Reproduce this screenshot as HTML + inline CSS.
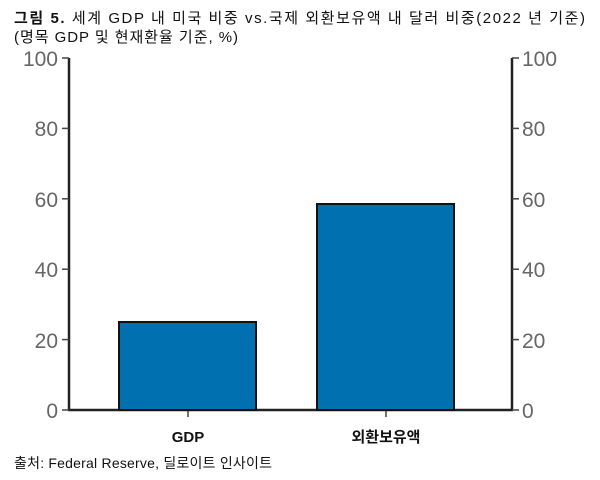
<html><head><style>body{margin:0;background:#fff;width:600px;height:480px;overflow:hidden}</style></head><body>
<svg width="600" height="480" xmlns="http://www.w3.org/2000/svg" style="font-family:'Liberation Sans','Noto Sans CJK KR',sans-serif">
<text x="14" y="23" font-size="15" fill="#111" textLength="571" lengthAdjust="spacing"><tspan font-weight="bold">그림 5.</tspan> 세계 GDP 내 미국 비중 vs.국제 외환보유액 내 달러 비중(2022 년 기준)</text>
<text x="14" y="42" font-size="15" fill="#111" textLength="224" lengthAdjust="spacing">(명목 GDP 및 현재환율 기준, %)</text>
<g stroke="#222" stroke-width="2.5" fill="none">
<line x1="69" y1="58" x2="69" y2="411"/>
<line x1="512" y1="58" x2="512" y2="411"/>
<line x1="68" y1="410" x2="513" y2="410"/>
</g>
<g stroke="#444" stroke-width="1.5">
<line x1="62" y1="58" x2="69" y2="58"/><line x1="62" y1="128.4" x2="69" y2="128.4"/><line x1="62" y1="198.8" x2="69" y2="198.8"/><line x1="62" y1="269.2" x2="69" y2="269.2"/><line x1="62" y1="339.6" x2="69" y2="339.6"/><line x1="62" y1="410" x2="69" y2="410"/>
<line x1="512" y1="58" x2="519" y2="58"/><line x1="512" y1="128.4" x2="519" y2="128.4"/><line x1="512" y1="198.8" x2="519" y2="198.8"/><line x1="512" y1="269.2" x2="519" y2="269.2"/><line x1="512" y1="339.6" x2="519" y2="339.6"/><line x1="512" y1="410" x2="519" y2="410"/>
<line x1="188" y1="410" x2="188" y2="417"/><line x1="386" y1="410" x2="386" y2="417"/>
</g>
<g font-size="21" fill="#666" text-anchor="end">
<text x="58" y="66">100</text><text x="58" y="136">80</text><text x="58" y="207">60</text><text x="58" y="277">40</text><text x="58" y="348">20</text><text x="58" y="418">0</text>
</g>
<g font-size="21" fill="#666" text-anchor="start">
<text x="522" y="66">100</text><text x="522" y="136">80</text><text x="522" y="207">60</text><text x="522" y="277">40</text><text x="522" y="348">20</text><text x="522" y="418">0</text>
</g>
<rect x="119" y="322" width="137" height="88" fill="#0070b0" stroke="#111" stroke-width="2"/>
<rect x="317" y="204" width="137" height="206" fill="#0070b0" stroke="#111" stroke-width="2"/>
<text x="188" y="442" font-size="15" font-weight="bold" text-anchor="middle" fill="#111">GDP</text>
<text x="386" y="442" font-size="15" font-weight="bold" text-anchor="middle" fill="#111">외환보유액</text>
<text x="14" y="468" font-size="14" fill="#111" textLength="258" lengthAdjust="spacing">출처: Federal Reserve, 딜로이트 인사이트</text>
</svg>
</body></html>
